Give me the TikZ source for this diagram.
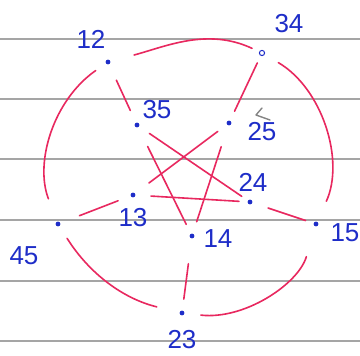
\documentclass[tikz,border=0pt]{standalone}
\usepackage{fontspec}
\setmainfont{Liberation Sans}
\definecolor{inkred}{RGB}{232,40,95}
\definecolor{inkblue}{RGB}{30,45,200}
\definecolor{ruling}{RGB}{165,165,165}
\begin{document}
\begin{tikzpicture}[x=1pt,y=1pt,
  lab/.style={text=inkblue, font=\fontsize{26}{26}\selectfont, inner sep=0pt},
  edge/.style={draw=inkred, line width=1.6pt, line cap=round},
  rulingline/.style={draw=ruling, line width=1.1pt},
  dotmark/.style={fill=inkblue}]
\useasboundingbox (0,0) rectangle (360,356);
\fill[white] (0,0) rectangle (360,356);
\foreach \yy in {317,257,197,136,75,15} \draw[rulingline] (0,\yy) -- (360,\yy);
% vertices
\coordinate (v12) at (108,294);
\coordinate (v34) at (262,303);
\coordinate (v35) at (137,231);
\coordinate (v25) at (229,233);
\coordinate (v24) at (250,154);
\coordinate (v13) at (133,161);
\coordinate (v14) at (192,120);
\coordinate (v45) at (58,132);
\coordinate (v15) at (316,132);
\coordinate (v23) at (182,43);
% outer cycle
\draw[edge, shorten <=27pt, shorten >=11pt] (v12) to[out=15, in=155] (v34);
\draw[edge, shorten <=19pt, shorten >=25pt] (v34) to[bend left=42] (v15);
\draw[edge, shorten <=34pt, shorten >=19pt] (v15) to[bend left=40] (v23);
\draw[edge, shorten <=26pt, shorten >=17pt] (v23) to[bend left=22] (v45);
\draw[edge, shorten <=27pt, shorten >=15pt] (v45) to[bend left=38] (v12);
% spokes
\draw[edge, shorten <=20pt, shorten >=16pt] (v12) -- (v35);
\draw[edge, shorten <=11pt, shorten >=13pt] (v34) -- (v25);
\draw[edge, shorten <=23pt, shorten >=16pt] (v45) -- (v13);
\draw[edge, shorten <=19pt, shorten >=11pt] (v24) -- (v15);
\draw[edge, shorten <=28pt, shorten >=14pt] (v14) -- (v23);
% pentagram
\draw[edge, shorten <=24pt, shorten >=13pt] (v35) -- (v14);
\draw[edge, shorten <=15pt, shorten >=10pt] (v35) -- (v24);
\draw[edge, shorten <=20pt, shorten >=14pt] (v13) -- (v25);
\draw[edge, shorten <=18pt, shorten >=11pt] (v13) -- (v24);
\draw[edge, shorten <=15pt, shorten >=25pt] (v14) -- (v25);
% dots
\foreach \v in {v12,v35,v25,v24,v13,v14,v45,v15,v23} \fill[dotmark] (\v) circle (2.4);
\draw[inkblue, line width=1pt] (v34) circle (2.6);
% stray pencil mark
\draw[ruling!80!black, line width=1.4pt, line cap=round, line join=round] (262,248) -- (256,241) -- (270,236);
% labels
\node[lab] (l12) at (91,317) {12};
\node[lab] (l34) at (289,332) {34};
\node[lab] (l35) at (157,246) {35};
\node[lab] (l25) at (262,224) {25};
\node[lab] (l24) at (253,174) {24};
\node[lab] (l13) at (133,138) {13};
\node[lab] (l14) at (218,117) {14};
\node[lab] (l45) at (24,100) {45};
\node[lab] (l15) at (345,123) {15};
\node[lab] (l23) at (182,16) {23};
\end{tikzpicture}
\end{document}
